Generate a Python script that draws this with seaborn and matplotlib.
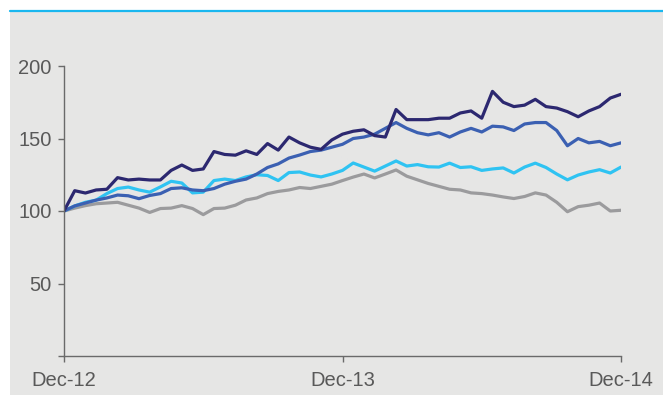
import matplotlib
matplotlib.use("Agg")
import matplotlib.pyplot as plt
from matplotlib.patches import Rectangle
from matplotlib.lines import Line2D
import seaborn as sns
import pandas as pd

# Rebased share price performance (Dec-12 = 100), sampled every two weeks
weeks = list(range(0, 105, 2))

company = [100, 114, 112.4, 114.5, 115, 123, 121.4, 122, 121.4, 121.4,
           128, 131.7, 128, 129, 141, 139, 138.5, 141.5, 139, 146.5,
           142, 151, 147, 144, 142.5, 149, 153, 155, 156, 152,
           151, 170, 163, 163, 163, 164, 164, 167.6, 169, 164,
           182.5, 175, 172, 173, 177, 172, 171, 168.5, 165, 169,
           172, 177.9, 180.5]

peer_group = [100, 103.5, 105.5, 107.5, 109, 111, 110.5, 108.5, 110.7, 112,
              115.5, 116, 114.5, 114, 115.5, 118.5, 120.5, 122, 125.5, 130,
              132.5, 136.5, 138.6, 141, 142, 144, 146, 150, 151, 153,
              157, 161, 157, 154, 152.5, 154, 151, 154.5, 157, 154.5,
              158.5, 158, 155.5, 160, 161, 161, 155.5, 145, 150, 147,
              148, 145, 147]

broad_index = [100, 103.5, 106, 107.5, 112, 115.5, 116.5, 114.5, 113, 116.6,
               120.5, 119.3, 112.5, 113, 121, 122, 121, 123.5, 125, 124.5,
               121, 126.5, 126.9, 124.8, 123.5, 125.5, 128, 133.1, 130.3, 127.5,
               131, 134.5, 131, 132, 130.5, 130.3, 133, 130, 130.5, 128,
               129, 129.7, 126.2, 130.3, 133, 130, 125.5, 121.5, 124.8, 126.9,
               128.5, 126.2, 130.3]

sector_index = [100, 102, 103.7, 105, 105.5, 106, 104, 102, 99, 101.7,
                102, 103.7, 101.7, 97.5, 101.7, 102, 104, 107.6, 109, 112,
                113.5, 114.5, 116.2, 115.5, 117, 118.5, 121, 123.4, 125.5, 122.8,
                125.5, 128.3, 124, 121.5, 119, 117, 115, 114.5, 112.5, 112,
                111, 109.7, 108.6, 110, 112.5, 111, 106, 99.5, 103, 104,
                105.5, 100, 100.5]

tick_weeks = [0, 52, 104]
tick_labels = ["Dec-12", "Dec-13", "Dec-14"]
y_ticks = [0, 50, 100, 150, 200]
y_labels = ["", "50", "100", "150", "200"]

series = {
    "Sector index": sector_index,
    "Broad index": broad_index,
    "Peer group": peer_group,
    "Company": company,
}
colors = {
    "Sector index": "#9b9b9d",
    "Broad index": "#2fc3f2",
    "Peer group": "#3b60b2",
    "Company": "#2c2870",
}

df = pd.concat(
    [pd.DataFrame({"week": weeks, "value": vals, "series": name})
     for name, vals in series.items()],
    ignore_index=True,
)

sns.set_theme(style="white")
plt.rcParams["font.family"] = ["Liberation Sans", "DejaVu Sans"]

W, H = 663, 399
fig = plt.figure(figsize=(W / 100, H / 100), dpi=100)
fig.patch.set_facecolor("white")

# grey panel and the cyan rule above it
fig.add_artist(Rectangle((10 / W, 4 / H), (W - 10) / W, (395 - 12) / H,
                         transform=fig.transFigure, facecolor="#e6e6e5",
                         edgecolor="none", zorder=0))
fig.add_artist(Line2D([10 / W, 1], [1 - 10.5 / H] * 2, color="#1ab7ef",
                      lw=1.6, transform=fig.transFigure))

ax = fig.add_axes([64 / W, 1 - 356 / H, (621 - 64) / W, (356 - 66) / H])
ax.set_facecolor("none")

sns.lineplot(data=df, x="week", y="value", hue="series", palette=colors,
             hue_order=list(series.keys()), linewidth=2.3, legend=False,
             ax=ax, estimator=None, sort=False)

ax.set_xlim(0, 104)
ax.set_ylim(0, 200)
ax.set_xticks(tick_weeks)
ax.set_xticklabels(tick_labels)
ax.set_yticks(y_ticks)
ax.set_yticklabels(y_labels)
ax.set_xlabel("")
ax.set_ylabel("")

for side in ("top", "right"):
    ax.spines[side].set_visible(False)
for side in ("left", "bottom"):
    ax.spines[side].set_color("#6a6a6a")
    ax.spines[side].set_linewidth(1.0)

ax.tick_params(axis="both", direction="out", length=4, width=1,
               color="#6a6a6a", labelcolor="#595959", labelsize=14.5,
               pad=5, left=True, bottom=True)
ax.tick_params(axis="x", pad=7)

fig.savefig("out.png", dpi=100, facecolor="white")
